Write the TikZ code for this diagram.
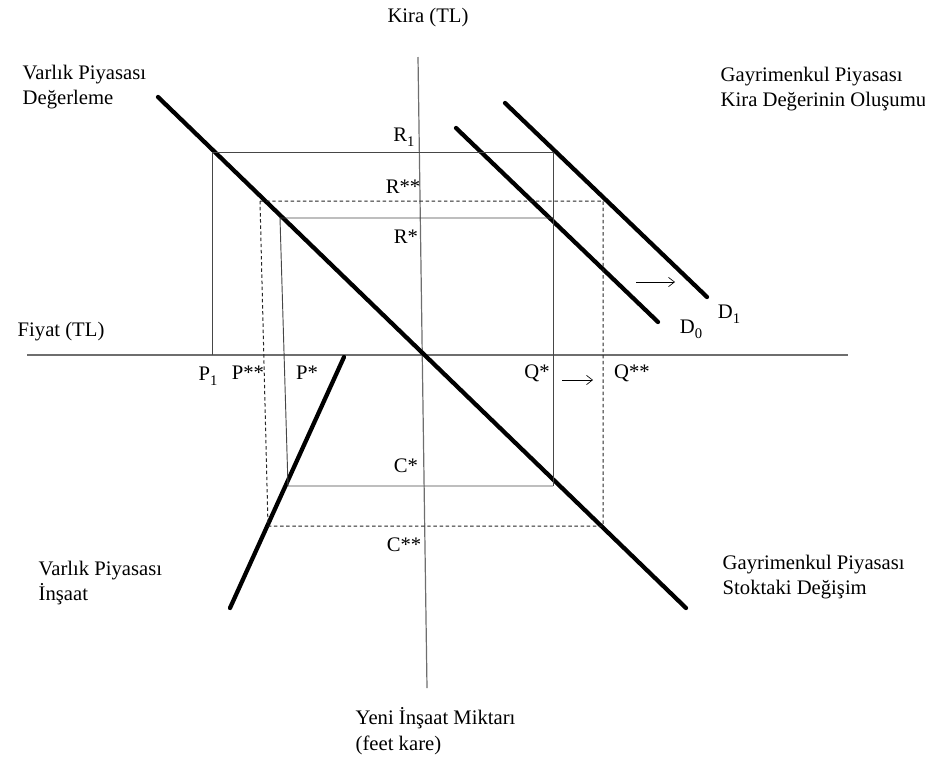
\documentclass[tikz,border=0pt]{standalone}
\usepackage{fontspec}
\setmainfont{Liberation Serif}
\usepackage{tikz}
\usetikzlibrary{arrows.meta}
\definecolor{axisclr} {RGB}{110, 110, 110}
\definecolor{boxclr}  {RGB}{70,  70,  70}
\definecolor{curveclr}{RGB}{0,   0,   0}
\newcommand{\lowsub}[1]{\raisebox{-0.5ex}{\fontsize{11}{11}\selectfont #1}}

\begin{document}
\begin{tikzpicture}[x=0.75pt, y=-0.75pt, font=\fontsize{15.5}{19}\selectfont,
    axis/.style={line width=0.9pt, axisclr},
    box/.style={line width=0.7pt, boxclr},
    dbox/.style={line width=0.75pt, black!85, dash pattern=on 2.6pt off 2pt},
    curve/.style={line width=3.2pt, curveclr, line cap=round},
    shiftarrow/.style={line width=0.5pt, -{Straight Barb[length=4.5pt, width=7pt]}}]
  \useasboundingbox (0,0) rectangle (925,758);
  % levels of the boxes
  \def\yRa{152}  \def\yRss{201} \def\yRs{218}
  \def\yCs{486}  \def\yCss{526}
  \def\xPa{212}  \def\xQs{553}  \def\xQss{603}
  % axes
  \coordinate (fiyatL) at (27,355);
  \coordinate (fiyatR) at (848,355);
  \coordinate (kiraT)  at (418,57);
  \coordinate (kiraB)  at (427,688);
  \draw[axis] (fiyatL) -- (fiyatR);
  \draw[axis] (kiraT) -- (kiraB);
  \node (kira) at (428,18) {Kira (TL)};
  \node[anchor=west] (fiyat) at (13,332) {Fiyat (TL)};
  \node[anchor=west, align=left] (yeni) at (351,731) {Yeni İnşaat Miktarı\\(feet kare)};
  % quadrant titles
  \node[anchor=west, align=left] (degerleme) at (18,87) {Varlık Piyasası\\Değerleme};
  \node[anchor=west, align=left] (kiraolus) at (716,89) {Gayrimenkul Piyasası\\Kira Değerinin Oluşumu};
  \node[anchor=west, align=left] (insaat) at (34,583) {Varlık Piyasası\\İnşaat};
  \node[anchor=west, align=left] (stok) at (718,577) {Gayrimenkul Piyasası\\Stoktaki Değişim};
  % thick schedules
  \coordinate (degA) at (158,97);  \coordinate (degB) at (686,608);
  \coordinate (insA) at (344,357); \coordinate (insB) at (230,608);
  \coordinate (dzA)  at (456,128); \coordinate (dzB)  at (658,322);
  \coordinate (doA)  at (505,103); \coordinate (doB)  at (707,297);
  \draw[curve] (degA) -- (degB);
  \draw[curve] (insA) -- (insB);
  \draw[curve] (dzA) -- (dzB);
  \draw[curve] (doA) -- (doB);
  % first quadrilateral (R1, P1)
  \coordinate (p1) at (\xPa,355);
  \coordinate (r1L) at (\xPa,\yRa);
  \coordinate (r1R) at (\xQs,\yRa);
  \coordinate (csR) at (\xQs,\yCs);
  \draw[box] (p1) -- (r1L) -- (r1R) -- (csR);
  % equilibrium (R*, P*, Q*, C*)
  \coordinate (rsR) at (\xQs,\yRs);
  \coordinate (rsL) at (280,\yRs);
  \coordinate (csL) at (288,\yCs);
  \draw[box] (rsR) -- (rsL) -- (csL) -- (csR);
  % new equilibrium (R**, P**, Q**, C**)
  \coordinate (rssL) at (260,\yRss);
  \coordinate (rssR) at (\xQss,\yRss);
  \coordinate (cssR) at (\xQss,\yCss);
  \coordinate (cssL) at (268,\yCss);
  \draw[dbox] (rssL) -- (rssR) -- (cssR) -- (cssL) -- cycle;
  % shifts
  \coordinate (dsA) at (636,282); \coordinate (dsB) at (675,282);
  \coordinate (qsA) at (562,380); \coordinate (qsB) at (593,380);
  \draw[shiftarrow] (dsA) -- (dsB);
  \draw[shiftarrow] (qsA) -- (qsB);
  % point labels
  \node (lR1)  at (404,137) {R\lowsub{1}};
  \node (lRss) at (403,187) {R**};
  \node (lRs)  at (406,237) {R*};
  \node (lP1)  at (208,376) {P\lowsub{1}};
  \node (lPss) at (248,373) {P**};
  \node (lPs)  at (307,373) {P*};
  \node (lQs)  at (537,373) {Q*};
  \node (lQss) at (632,373) {Q**};
  \node (lCs)  at (406,466) {C*};
  \node (lCss) at (404,545) {C**};
  \node (lD0)  at (691,329) {D\lowsub{0}};
  \node (lD1)  at (729,314) {D\lowsub{1}};
\end{tikzpicture}
\end{document}
